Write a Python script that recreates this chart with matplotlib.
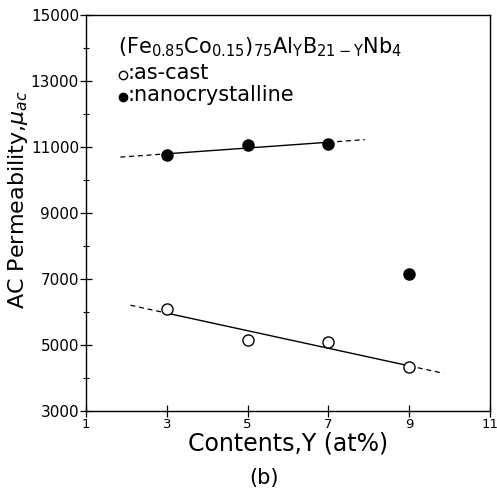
import matplotlib.pyplot as plt
import numpy as np
import matplotlib as mpl

mpl.rcParams['font.family'] = ['DejaVu Sans']
mpl.rcParams['mathtext.fontset'] = 'dejavusans'

# data
y_content = [3, 5, 7, 9]
as_cast = [6100, 5150, 5080, 4350]
nano_x = [3, 5, 7]
nano = [10750, 11050, 11100]
nano_out_x = [9]
nano_out = [7150]

xticks = [1, 3, 5, 7, 9, 11]
yticks = [3000, 5000, 7000, 9000, 11000, 13000, 15000]

fig = plt.figure(figsize=(4.97, 4.93), dpi=100)
ax = fig.add_axes([0.173, 0.166, 0.813, 0.804])

# fitted lines (solid over the data, dashed extrapolation)
p1 = np.polyfit(nano_x, nano, 1)
xs = np.array([3, 7])
ax.plot(xs, np.polyval(p1, xs), 'k-', lw=1)
xl = np.array([1.85, 3])
ax.plot(xl, np.polyval(p1, xl), 'k--', lw=0.9, dashes=(4, 3))
xr = np.array([7, 7.9])
ax.plot(xr, np.polyval(p1, xr), 'k--', lw=0.9, dashes=(4, 3))

p2 = np.polyfit(y_content, as_cast, 1)
xs = np.array([3, 9])
ax.plot(xs, np.polyval(p2, xs), 'k-', lw=1)
xl = np.array([2.1, 3])
ax.plot(xl, np.polyval(p2, xl), 'k--', lw=0.9, dashes=(4, 3))
xr = np.array([9, 9.85])
ax.plot(xr, np.polyval(p2, xr), 'k--', lw=0.9, dashes=(4, 3))

ax.plot(y_content, as_cast, 'o', mfc='white', mec='black', ms=8, mew=1, zorder=5)
ax.plot(nano_x, nano, 'o', color='black', ms=8, zorder=5)
ax.plot(nano_out_x, nano_out, 'o', color='black', ms=8, zorder=5)

ax.set_xlim(1, 11)
ax.set_ylim(3000, 15000)
ax.set_xticks(xticks)
ax.set_xticklabels([str(v) for v in xticks], fontsize=9.5)
ax.set_yticks(yticks)
ax.set_yticklabels([str(v) for v in yticks], fontsize=11)
ax.set_yticks(np.arange(4000, 15000, 2000), minor=True)
ax.tick_params(axis='both', which='major', direction='inout', length=8, width=0.9, pad=1)
ax.tick_params(axis='y', which='minor', direction='inout', length=5, width=0.8)
for s in ax.spines.values():
    s.set_linewidth(1.0)

ax.set_xlabel('Contents,Y (at%)', fontsize=17, labelpad=0)
ax.set_ylabel(r'AC Permeability,$\mu_{ac}$', fontsize=16)
ax.yaxis.set_label_coords(-0.138, 0.533)

ax.text(1.79, 14030, r'(Fe$_{0.85}$Co$_{0.15}$)$_{75}$Al$_{\rm Y}$B$_{21-\rm Y}$Nb$_{4}$',
        fontsize=15, va='center')
ax.plot([1.92], [13180], 'o', mfc='white', mec='black', ms=6, mew=1)
ax.plot([1.92], [12515], 'o', color='black', ms=6)
ax.text(2.03, 13250, ':as-cast', fontsize=15, va='center')
ax.text(2.03, 12580, ':nanocrystalline', fontsize=15, va='center')

fig.text(0.531, 0.03, '(b)', fontsize=15, ha='center', va='center')

fig.savefig('out.png', dpi=100)
